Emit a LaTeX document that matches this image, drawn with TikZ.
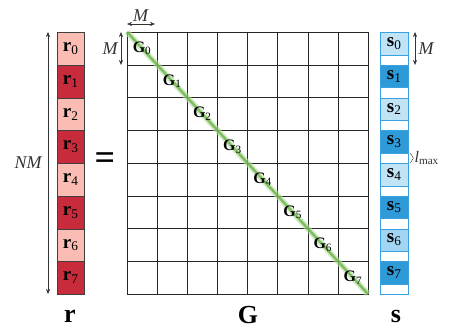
\documentclass[tikz,border=0pt]{standalone}
\usepackage{fontspec}
\setmainfont{Liberation Serif}
\usetikzlibrary{arrows.meta,positioning,decorations.pathreplacing}

\definecolor{rlight}{HTML}{FBBDB3}
\definecolor{rdark}{HTML}{C82C3C}
\definecolor{slight}{HTML}{C0E3F6}
\definecolor{smid}{HTML}{A2D4F3}
\definecolor{sdark}{HTML}{2E9AD7}
\definecolor{sline}{HTML}{3AA2E2}
\definecolor{diag}{HTML}{62B03C}

\begin{document}
\begin{tikzpicture}[
  x=1pt, y=-1pt,
  fs/.style={font=\fontsize{#1}{#1}\selectfont},
  rcell/.style={draw=black!75, anchor=north west, inner sep=0pt, minimum width=27pt, minimum height=32.75pt, fs=19},
  scell/.style={anchor=north west, inner sep=0pt, minimum width=28pt, minimum height=22.5pt, fs=19},
  gcell/.style={inner sep=0pt, fs=16},
  dim/.style={{Stealth[length=5pt,width=4pt]}-{Stealth[length=5pt,width=4pt]}, black!80},
  big/.style={font=\fontsize{26}{26}\selectfont\bfseries},
]
\useasboundingbox (0,0) rectangle (449,329);

% vector r
\foreach \i in {0,...,7}{
  \ifodd\i \def\rc{rdark}\else\def\rc{rlight}\fi
  \node[rcell, fill=\rc] (r\i) at (57,{32+32.75*\i}) {\textbf{r}\textsubscript{\i}};
}

% matrix G
\draw[black!85] (127,32) rectangle (368,294);
\foreach \k in {1,...,7}{
  \draw[black!85] ({127+30.125*\k},32) -- ({127+30.125*\k},294);
  \draw[black!85] (127,{32+32.75*\k}) -- (368,{32+32.75*\k});
}
\coordinate (gtl) at (127,32);
\coordinate (gbr) at (368,294);
\draw[line width=6pt, diag!45, opacity=.6] (gtl) -- (gbr);
\draw[line width=2.5pt, diag, opacity=.75] (gtl) -- (gbr);
\foreach \i in {0,...,7}{
  \node[gcell] (g\i) at ({127+30.125*(\i+.5)},{32+32.75*(\i+.5)}) {\textbf{G}\textsubscript{\i}};
}

% vector s
\draw[sline, fill=white] (380,32) rectangle (408,294);
\foreach \i/\sc in {0/slight,1/sdark,2/slight,3/sdark,4/slight,5/sdark,6/smid,7/sdark}{
  \node[scell, draw=sline, fill=\sc] (s\i) at (380,{32+32.75*\i}) {\textbf{s}\textsubscript{\i}};
}

% dimensions
\coordinate (nmtop) at (48,32);
\coordinate (nmbot) at (48,294);
\draw[dim] (nmtop) -- node[left=2pt, fs=18] {\textit{NM}} (nmbot);
\coordinate (mtl) at (127,24);
\coordinate (mtr) at (155,24);
\draw[dim] (mtl) -- node[above=-1pt, fs=18] {\textit{M}} (mtr);
\coordinate (mlt) at (121,32);
\coordinate (mlb) at (121,65);
\draw[dim] (mlt) -- node[left=-1pt, fs=18] {\textit{M}} (mlb);
\coordinate (mrt) at (415,32);
\coordinate (mrb) at (415,65);
\draw[dim] (mrt) -- node[right=0pt, fs=18] {\textit{M}} (mrb);
\draw[black!80, decorate, decoration={brace, amplitude=3pt}]
  ([xshift=2pt]s3.south east) -- node[right=4pt, fs=16, inner sep=0pt] {\textit{l}\textsubscript{max}} ([xshift=2pt]s4.north east);

% equals sign and names
\node[font=\fontsize{36}{36}\selectfont\bfseries] (eq) at (105,161) {=};
\node[big] (rname) at (70,316) {r};
\node[big] (gname) at (248,315) {G};
\node[big] (sname) at (396,316) {s};
\end{tikzpicture}
\end{document}
